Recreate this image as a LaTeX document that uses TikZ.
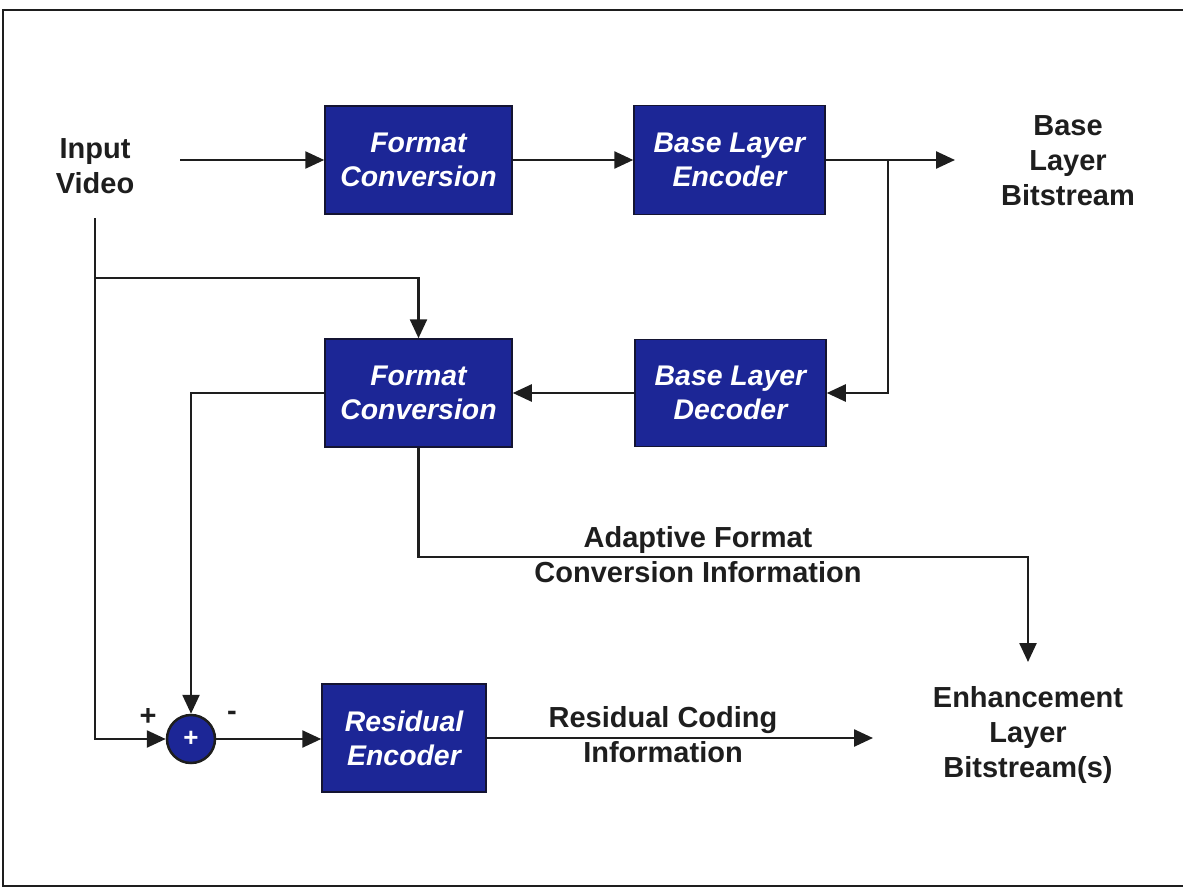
\documentclass[tikz,border=0pt]{standalone}
\usepackage{fontspec}
\setmainfont{Liberation Sans}
\usetikzlibrary{arrows.meta}
\definecolor{boxblue}{RGB}{28,38,150}
\definecolor{boxedge}{RGB}{20,20,50}
\definecolor{ink}{RGB}{30,30,30}
\begin{document}
\begin{tikzpicture}[x=1pt,y=-1pt,
  blk/.style={draw=boxedge, line width=1.5pt, fill=boxblue, text=white,
    font=\fontsize{28.4}{34}\selectfont\bfseries\itshape, align=center, inner sep=0pt},
  lbl/.style={font=\fontsize{29}{35}\selectfont\bfseries, align=center, text=ink, inner sep=0pt},
  conn/.style={line width=2.5pt, draw=ink},
  arr/.style={conn, -{Triangle[length=19pt,width=17pt]}}]
\useasboundingbox (0,0) rectangle (1183,888);
\draw[line width=2pt, draw=ink] (1183,10) -- (3,10) -- (3,886) -- (1183,886);

\node[blk, minimum width=187pt, minimum height=108pt] (fc1) at (418.5,160) {Format\\Conversion};
\node[blk, minimum width=191pt, minimum height=109pt] (ble) at (729.5,160) {Base Layer\\Encoder};
\node[blk, minimum width=187pt, minimum height=108pt] (fc2) at (418.5,393) {Format\\Conversion};
\node[blk, minimum width=191pt, minimum height=107pt] (bld) at (730.5,393) {Base Layer\\Decoder};
\node[blk, minimum width=164pt, minimum height=108pt] (re) at (404,738) {Residual\\Encoder};
\node[circle, draw=ink, line width=2.5pt, fill=boxblue, minimum size=48pt, inner sep=0pt,
  text=white, font=\fontsize{26}{26}\selectfont\bfseries] (add) at (191,739) {+};

\node[lbl] (in) at (95,166) {Input\\Video};
\node[lbl] (blb) at (1068,161) {Base\\Layer\\Bitstream};
\node[lbl] (elb) at (1028,735) {Enhancement\\Layer\\Bitstream(s)};
\node[lbl] (afc) at (698,555) {Adaptive Format\\Conversion Information};
\node[lbl] (rci) at (663,735) {Residual Coding\\Information};
\node[lbl] (plus) at (148,717) {+};
\node[lbl] (minus) at (232,716) {-};

\coordinate (inR) at (180,160);
\coordinate (blbIn) at (955,160);
\coordinate (br1) at (888,160);
\coordinate (inBot) at (95,218);
\coordinate (br2) at (95,278);
\coordinate (afcTurn) at (1028,557);
\coordinate (elbIn) at (1028,662);
\coordinate (rciOut) at (873,738);

\draw[arr] (inR) -- (fc1.west);
\draw[arr] (fc1.east) -- (ble.west);
\draw[arr] (ble.east) -- (blbIn);
\draw[arr] (br1) |- (bld.east);
\draw[arr] (bld.west) -- (fc2.east);
\draw[arr] (inBot) |- (add.west);
\draw[arr] (br2) -| (fc2.north);
\draw[arr] (fc2.west) -| (add.north);
\draw[arr] (fc2.south) |- (afcTurn) -- (elbIn);
\draw[arr] (add.east) -- (add.east -| re.west);
\draw[arr] (re.east) -- (rciOut);
\end{tikzpicture}
\end{document}
